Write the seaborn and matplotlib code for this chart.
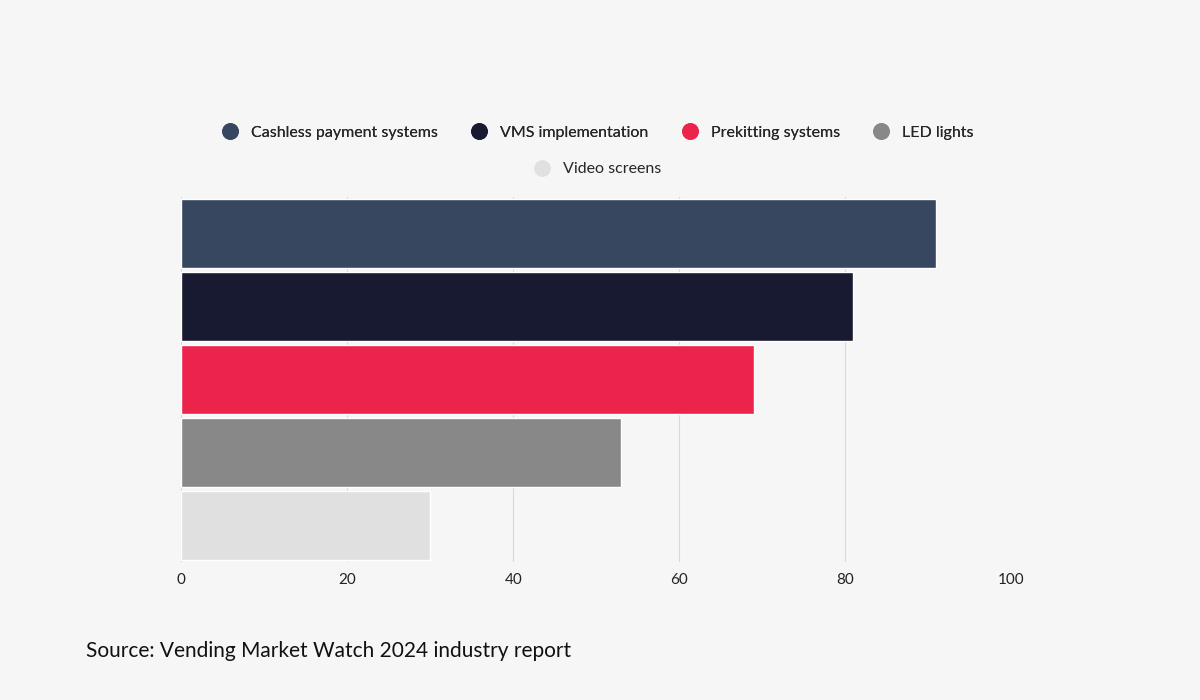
import matplotlib
matplotlib.use("Agg")
import matplotlib.pyplot as plt
import seaborn as sns
import pandas as pd
from matplotlib.lines import Line2D

categories = ["Cashless payment systems", "VMS implementation", "Prekitting systems", "LED lights", "Video screens"]
values = [91, 81, 69, 53, 30]
colors = ["#36475f", "#171a30", "#ec234b", "#888888", "#e0e0e0"]
ticks = [0, 20, 40, 60, 80, 100]

sns.set_theme(style="white")
plt.rcParams['font.family'] = ['Lato', 'DejaVu Sans']

fig = plt.figure(figsize=(12, 7), dpi=100, facecolor="#f6f6f6")
ax = fig.add_axes([0.151, 0.197, 0.6916, 0.522], facecolor="#f6f6f6")
df = pd.DataFrame({"cat": categories, "val": values})
sns.barplot(data=df, y="cat", x="val", hue="cat", palette=colors, width=0.94,
            dodge=False, legend=False, ax=ax, saturation=1, zorder=3)
ax.set_xlim(0, 100)
ax.set_ylim(4.5, -0.5)
ax.set_xticks(ticks)
ax.set_xticklabels([str(t) for t in ticks], fontsize=11, color="#222222")
ax.set_yticks([])
ax.set_xlabel("")
ax.set_ylabel("")
ax.grid(axis="x", color="#d8d8d8", linewidth=0.8, zorder=0)
for s in ax.spines.values():
    s.set_visible(False)
ax.tick_params(axis="x", length=0, pad=8)

handles = [Line2D([0], [0], marker="o", linestyle="", markersize=11,
                  markerfacecolor=c, markeredgecolor=c) for c in colors]
leg1 = fig.legend(handles[:4], categories[:4], loc="center", bbox_to_anchor=(0.495, 0.81),
                  ncol=4, frameon=False, fontsize=11.5, handletextpad=0.3, columnspacing=1.6)
fig.add_artist(leg1)
fig.legend(handles[4:], categories[4:], loc="center", bbox_to_anchor=(0.495, 0.758),
           ncol=1, frameon=False, fontsize=11.5, handletextpad=0.3)

fig.text(0.072, 0.062, "Source: Vending Market Watch 2024 industry report", fontsize=15, color="#111111")
fig.savefig("out.png", dpi=100, facecolor=fig.get_facecolor())
